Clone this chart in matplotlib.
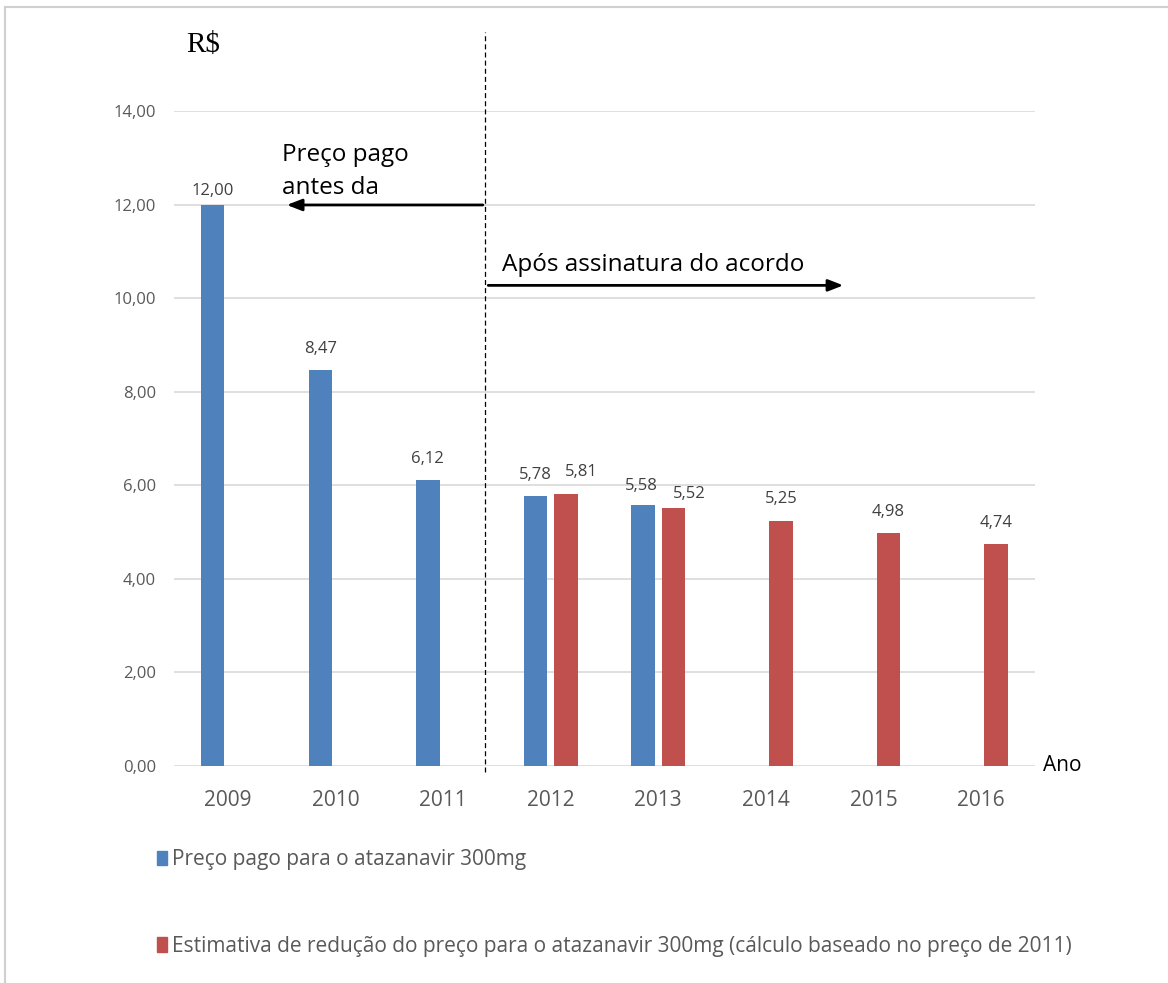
import matplotlib
matplotlib.use("Agg")
import matplotlib.pyplot as plt
from matplotlib.lines import Line2D
from matplotlib.patches import Patch
from matplotlib.ticker import FuncFormatter
import numpy as np

# Data
years = ["2009", "2010", "2011", "2012", "2013", "2014", "2015", "2016"]
preco_pago = [12.00, 8.47, 6.12, 5.78, 5.58, None, None, None]
estimativa = [None, None, None, 5.81, 5.52, 5.25, 4.98, 4.74]
label_pago = "Preço pago para o atazanavir 300mg"
label_estim = ("Estimativa de redução do preço para o atazanavir 300mg "
               "(cálculo baseado no preço de 2011)")

BLUE = "#4F81BD"
RED = "#C0504D"
GRID = "#D9D9D9"
TICK = "#595959"
VAL = "#404040"

plt.rcParams["font.family"] = ["Open Sans", "DejaVu Sans"]

fig = plt.figure(figsize=(11.68, 9.83), dpi=100)
ax = fig.add_axes([0.149, 0.2208, 0.737, 0.6658])

x = np.arange(len(years))
w = 0.218
off = 0.141


def draw_series(vals, dx, color):
    xs = [xi + dx for xi, v in zip(x, vals) if v is not None]
    ys = [v for v in vals if v is not None]
    return ax.bar(xs, ys, width=w, color=color, zorder=2), xs, ys


_, xb, yb = draw_series(preco_pago, -off, BLUE)
_, xr, yr = draw_series(estimativa, off, RED)

# value labels (a few nudged the way the spreadsheet placed them)
nudge = {(0, "b"): (0, 4.3), (3, "r"): (11.0, 10.0), (4, "r"): (11.5, 4.3),
         (4, "b"): (-1.5, 8.0)}
for series, xs, ys, key in ((preco_pago, xb, yb, "b"), (estimativa, xr, yr, "r")):
    idx = [i for i, v in enumerate(series) if v is not None]
    for i, xi, v in zip(idx, xs, ys):
        dx, dy = nudge.get((i, key), (0, 9.5))
        ax.annotate(f"{v:.2f}".replace(".", ","), (xi, v), xytext=(dx, dy),
                    textcoords="offset points", ha="center", va="bottom",
                    fontsize=12, color=VAL)

ax.set_xlim(-0.5, 7.5)
ax.set_ylim(0, 14)
ax.set_yticks(np.arange(0, 15, 2))
ax.yaxis.set_major_formatter(FuncFormatter(lambda v, p: f"{v:.2f}".replace(".", ",")))
ax.set_xticks(x)
ax.set_xticklabels(years)
ax.tick_params(axis="y", length=0, pad=13, labelsize=12, labelcolor=TICK)
ax.tick_params(axis="x", length=0, pad=17, labelsize=15, labelcolor=TICK)
ax.grid(axis="y", color=GRID, linewidth=1.2, zorder=0)
ax.set_axisbelow(True)
for s in ax.spines.values():
    s.set_visible(False)

# divider between before/after the agreement
ax.plot([2.39, 2.39], [-0.13, 15.7], color="black", linestyle=(0, (4, 2.5)),
        linewidth=0.9, clip_on=False, zorder=3)

arrow = dict(arrowstyle="-|>,head_length=0.9,head_width=0.35", color="black",
             linewidth=2, shrinkA=0, shrinkB=0)
ax.annotate("", xy=(0.548, 12.0), xytext=(2.37, 12.0), arrowprops=arrow)
ax.annotate("", xy=(5.72, 10.28), xytext=(2.42, 10.28), arrowprops=arrow)

ax.text(0.50, 12.93, "Preço pago", fontsize=17.5, color="black", va="baseline")
ax.text(0.50, 12.23, "antes da", fontsize=17.5, color="black", va="baseline")
ax.text(2.547, 10.58, "Após assinatura do acordo", fontsize=17.5,
        color="black", va="baseline")
ax.text(7.577, 0.02, "Ano", fontsize=15, color="black", va="center",
        clip_on=False)
ax.text(-0.388, 15.27, "R$", fontsize=21, color="black", va="baseline",
        family="Liberation Serif")

handles = [Patch(color=BLUE, label=label_pago), Patch(color=RED, label=label_estim)]
fig.legend(handles=handles, loc="upper left", bbox_to_anchor=(0.134, 0.136),
           frameon=False, fontsize=15, labelcolor=TICK, handlelength=0.5,
           handleheight=0.7, handletextpad=0.25, labelspacing=3.15,
           borderaxespad=0, borderpad=0)

# thin frame around the chart area
fig.add_artist(Line2D([0.0047, 0.0047], [0, 0.9929], color="#D0D0D0", linewidth=1.5))
fig.add_artist(Line2D([0.0047, 1.0], [0.9929, 0.9929], color="#D0D0D0", linewidth=1.5))

fig.savefig("out.png", dpi=100)
